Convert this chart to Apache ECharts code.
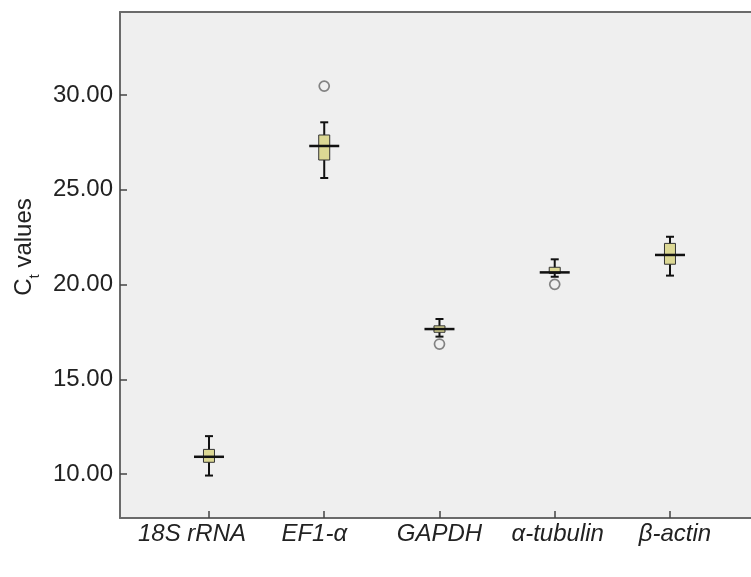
<!DOCTYPE html>
<html><head><meta charset="utf-8">
<script src="https://cdn.jsdelivr.net/npm/echarts@6/dist/echarts.min.js"></script>
<style>html,body{margin:0;padding:0;background:#fff}#c{width:751px;height:577px}</style>
</head><body><div id="c"></div>
<script>
const categories = ['18S rRNA', 'EF1-α', 'GAPDH', 'α-tubulin', 'β-actin'];
const whiskerLow  = [9.92, 25.62, 17.25, 20.41, 20.47];
const q1          = [10.62, 26.57, 17.48, 20.58, 21.07];
const median      = [10.91, 27.31, 17.65, 20.64, 21.56];
const q3          = [11.30, 27.89, 17.82, 20.91, 22.17];
const whiskerHigh = [12.00, 28.56, 18.18, 21.33, 22.52];
const outlierCategory = ['EF1-α', 'GAPDH', 'α-tubulin'];
const outlierValues   = [30.47, 16.86, 20.01];
const yTicks = [10, 15, 20, 25, 30];
const xTicks = categories.map((c, i) => i + 1);

const boxData = categories.map((c, i) => [i + 1, whiskerLow[i], q1[i], median[i], q3[i], whiskerHigh[i]]);
const outlierData = outlierCategory.map((c, i) => [categories.indexOf(c) + 1, outlierValues[i]]);

const font = 'Liberation Sans, Arial, sans-serif';
const labelShift = [-17, -10, 0, 3, 5];
const labelRich = {};
labelShift.forEach((s, i) => {
  labelRich['l' + i] = {
    fontSize: 24, fontStyle: 'italic', color: '#222', fontFamily: font,
    padding: s < 0 ? [0, -2 * s, 0, 0] : [0, 0, 0, 2 * s]
  };
});

const chart = echarts.init(document.getElementById('c'), null, {renderer: 'canvas'});
const axisColor = '#6a6a6a';

chart.setOption({
  backgroundColor: '#ffffff',
  animation: false,
  grid: {left: 120, top: 12, right: 0, bottom: 59, show: true, backgroundColor: '#efefef', borderWidth: 0},
  xAxis: [{
    type: 'value', min: 0.228, max: 5.703, position: 'bottom',
    axisLine: {show: true, onZero: false, lineStyle: {color: axisColor, width: 2}},
    axisTick: {show: true, inside: true, length: 7, customValues: xTicks, lineStyle: {color: '#444', width: 1.5}},
    axisLabel: {show: true, customValues: xTicks, margin: 4, fontSize: 24, fontStyle: 'italic', color: '#222', fontFamily: font,
      rich: labelRich,
      formatter: v => { const i = Math.round(v) - 1; return categories[i] ? '{l' + i + '|' + categories[i] + '}' : ''; }},
    splitLine: {show: false}
  }, {
    type: 'value', min: 0.228, max: 5.703, position: 'top',
    axisLine: {show: true, onZero: false, lineStyle: {color: axisColor, width: 2}},
    axisTick: {show: false}, axisLabel: {show: false}, splitLine: {show: false}
  }],
  yAxis: {
    type: 'value', min: 7.68, max: 34.38,
    axisLine: {show: true, onZero: false, lineStyle: {color: axisColor, width: 2}},
    axisTick: {show: true, inside: true, length: 7, customValues: yTicks, lineStyle: {color: '#444', width: 1.5}},
    axisLabel: {customValues: yTicks, margin: 7, fontSize: 24, color: '#222', fontFamily: font, formatter: v => v.toFixed(2)},
    splitLine: {show: false},
    name: '{a|C}{b|t}{a| values}',
    nameLocation: 'middle', nameGap: 83, nameRotate: 90,
    nameTextStyle: {
      color: '#222', fontFamily: font, padding: [0, 0, 0, 36],
      rich: {
        a: {fontSize: 24, fontFamily: font, color: '#222', lineHeight: 30, verticalAlign: 'bottom'},
        b: {fontSize: 15, fontFamily: font, color: '#222', lineHeight: 30, verticalAlign: 'bottom', padding: [0, 0, -6, 0]}
      }
    }
  },
  series: [{
    type: 'custom',
    data: boxData,
    encode: {x: 0, y: [1, 2, 3, 4, 5]},
    renderItem: function (params, api) {
      const x = api.value(0);
      const lo = api.coord([x, api.value(1)]);
      const b1 = api.coord([x, api.value(2)]);
      const md = api.coord([x, api.value(3)]);
      const b3 = api.coord([x, api.value(4)]);
      const hi = api.coord([x, api.value(5)]);
      const cx = lo[0];
      const bw = 11, cw = 8, mw = 30;
      return {type: 'group', children: [
        {type: 'line', shape: {x1: cx, y1: hi[1], x2: cx, y2: lo[1]}, style: {stroke: '#111', lineWidth: 2}},
        {type: 'line', shape: {x1: cx - cw / 2, y1: hi[1], x2: cx + cw / 2, y2: hi[1]}, style: {stroke: '#111', lineWidth: 2}},
        {type: 'line', shape: {x1: cx - cw / 2, y1: lo[1], x2: cx + cw / 2, y2: lo[1]}, style: {stroke: '#111', lineWidth: 2}},
        {type: 'rect', shape: {x: cx - bw / 2, y: b3[1], width: bw, height: b1[1] - b3[1]}, style: {fill: '#dcd894', stroke: '#333', lineWidth: 1}},
        {type: 'line', shape: {x1: cx - mw / 2, y1: md[1], x2: cx + mw / 2, y2: md[1]}, style: {stroke: '#111', lineWidth: 2.5}}
      ]};
    },
    z: 3
  }, {
    type: 'scatter',
    data: outlierData,
    symbol: 'circle', symbolSize: 10,
    itemStyle: {color: '#efefef', borderColor: '#666', borderWidth: 1.7},
    z: 4
  }]
});
</script></body></html>
